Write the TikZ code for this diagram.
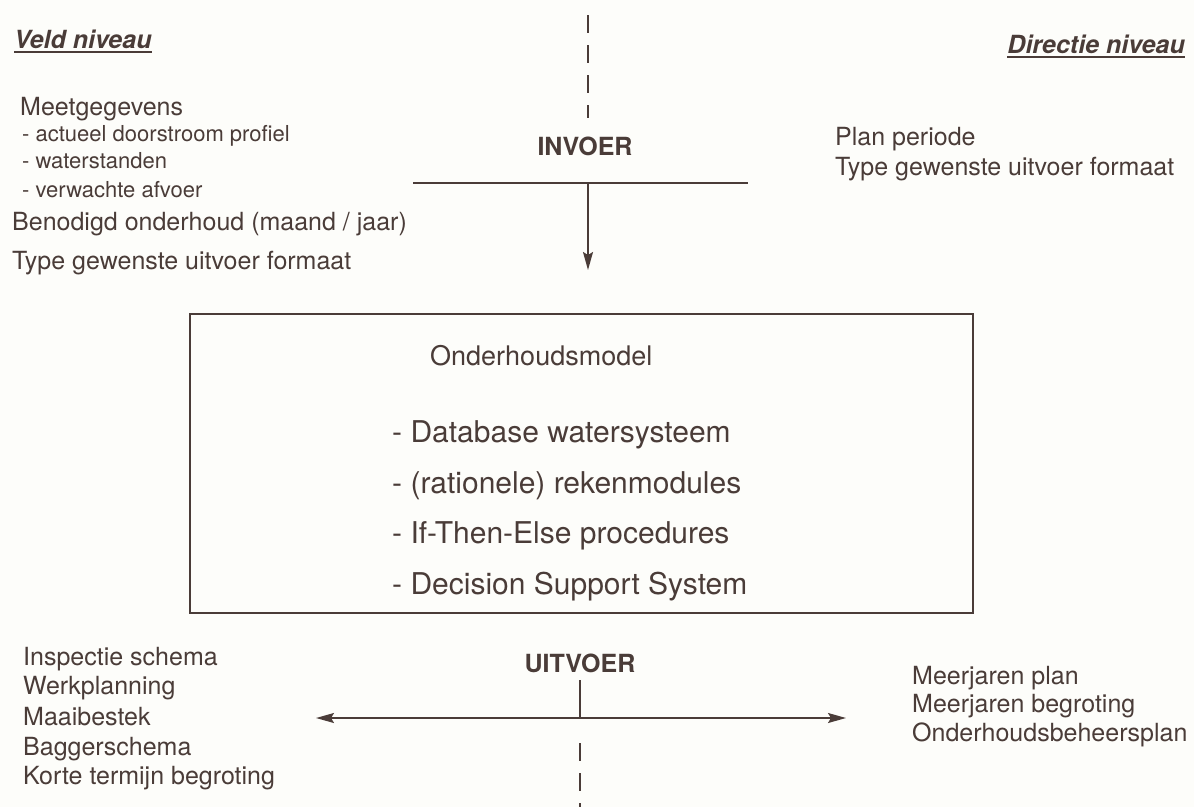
\documentclass[tikz,border=0pt]{standalone}
\usepackage{fontspec}
\setmainfont{TeX Gyre Heros}
\usetikzlibrary{arrows.meta}

\definecolor{ink}{RGB}{74,60,56}
\definecolor{paper}{RGB}{253,253,250}

\newcommand\tekst{\fontsize{25}{30}\selectfont}
\newcommand\subtekst{\fontsize{22}{26}\selectfont}
\newcommand\kadertekst{\fontsize{30}{36}\selectfont}

\tikzset{
  lbl/.style={anchor=base west, inner sep=0pt, text=ink, font=\tekst},
  sublbl/.style={lbl, font=\subtekst},
  kop/.style={lbl, font=\tekst\bfseries\itshape},
  lijn/.style={draw=ink, line width=1.6pt},
  grens/.style={lijn, dash pattern=on 18pt off 12pt},
  >={Stealth[length=18pt,width=10pt,inset=3pt]},
}

\begin{document}
\begin{tikzpicture}[x=1pt,y=-1pt]
\fill[paper] (0,0) rectangle (1194,807);
\useasboundingbox (0,0) rectangle (1194,807);

% niveaus
\node[kop] (veld) at (14,48) {Veld niveau};
\draw[ink, line width=1.5pt] ([yshift=-4pt]veld.base west) -- ([yshift=-4pt]veld.base east);
\node[kop, anchor=base east] (directie) at (1185,53) {Directie niveau};
\draw[ink, line width=1.5pt] ([yshift=-4pt]directie.base west) -- ([yshift=-4pt]directie.base east);

% invoer veld
\node[lbl] (meet) at (20,115) {Meetgegevens};
\node[sublbl] (profiel) at (22,141) {- actueel doorstroom profiel};
\node[sublbl] (standen) at (22,168) {- waterstanden};
\node[sublbl] (afvoer) at (22,197) {- verwachte afvoer};
\node[lbl] (onderhoud) at (12,230) {Benodigd onderhoud (maand / jaar)};
\node[lbl] (formaatL) at (12,269) {Type gewenste uitvoer formaat};

% invoer directie
\node[lbl] (periode) at (835,145) {Plan periode};
\node[lbl] (formaatR) at (835,175) {Type gewenste uitvoer formaat};

% invoer lijnen
\coordinate (top) at (588,15);
\coordinate (topend) at (588,118);
\draw[grens] (top) -- (topend);
\node[lbl, anchor=base, font=\tekst\bfseries] (invoer) at (585,155) {INVOER};
\coordinate (inL) at (413,183);
\coordinate (inR) at (748,183);
\coordinate (inM) at (588,183);
\coordinate (inTip) at (588,270);
\draw[lijn] (inL) -- (inR);
\draw[lijn, ->] (inM) -- (inTip);

% het model
\node[draw=ink, line width=1.6pt, minimum width=783pt, minimum height=299pt, inner sep=0pt] (model) at (581.5,463.5) {};
\node[lbl, font=\fontsize{27}{32}\selectfont] (titel) at (430,365) {Onderhoudsmodel};
\node[lbl, font=\kadertekst] (db) at (392,442) {- Database watersysteem};
\node[lbl, font=\kadertekst] (reken) at (392,493) {- (rationele) rekenmodules};
\node[lbl, font=\kadertekst] (ite) at (392,543) {- If-Then-Else procedures};
\node[lbl, font=\kadertekst] (dss) at (392,594) {- Decision Support System};

% uitvoer lijnen
\node[lbl, anchor=base, font=\tekst\bfseries] (uitvoer) at (580,672) {UITVOER};
\coordinate (uitTop) at (580,680);
\coordinate (uitM) at (580,718);
\coordinate (uitL) at (316,718);
\coordinate (uitR) at (846,718);
\draw[lijn] (uitTop) -- (uitM);
\draw[lijn, <->] (uitL) -- (uitR);
\coordinate (bot) at (580,743);
\coordinate (botend) at (580,807);
\draw[grens] (bot) -- (botend);

% uitvoer veld
\node[lbl] (inspectie) at (23,665) {Inspectie schema};
\node[lbl] (werk) at (23,694) {Werkplanning};
\node[lbl] (maai) at (23,725) {Maaibestek};
\node[lbl] (bagger) at (23,755) {Baggerschema};
\node[lbl] (korte) at (23,784) {Korte termijn begroting};

% uitvoer directie
\node[lbl] (mjplan) at (912,684) {Meerjaren plan};
\node[lbl] (mjbegr) at (912,712) {Meerjaren begroting};
\node[lbl] (ohbp) at (912,741) {Onderhoudsbeheersplan};
\end{tikzpicture}
\end{document}
